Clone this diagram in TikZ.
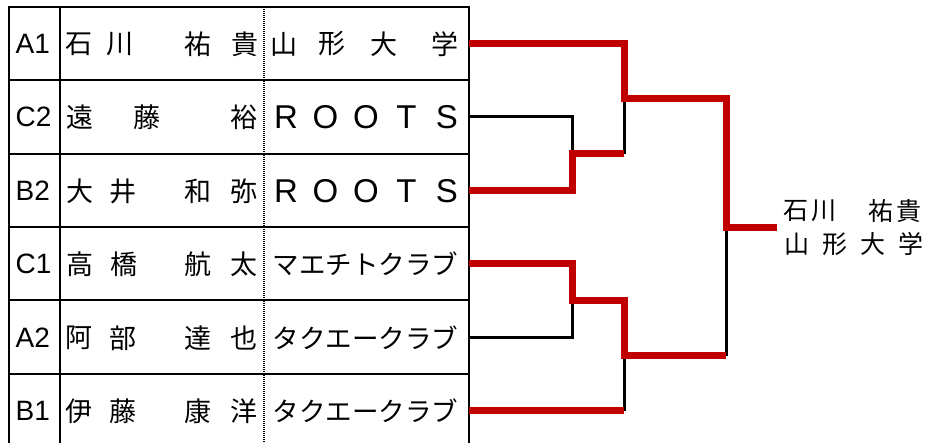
\documentclass[tikz,border=0pt]{standalone}
\usepackage{fontspec}
\setmainfont{Noto Sans CJK JP}
\newfontfamily\latinfont{Liberation Sans}
\definecolor{winred}{HTML}{C00000}
\begin{document}
\begin{tikzpicture}[x=1pt,y=-1pt,
  grid/.style={line width=2.8pt,black},
  sepdots/.style={line width=1.5pt,black,dash pattern=on 1pt off 1pt},
  lose/.style={line width=3pt,black},
  win/.style={line width=7pt,winred,miter limit=10},
  cell/.style={inner sep=0pt,font=\fontsize{27}{27}\selectfont},
  latin/.style={inner sep=0pt,font=\latinfont\fontsize{33}{33}\selectfont},
  kata/.style={inner sep=0pt,font=\fontsize{26.5}{27}\selectfont},
  lab/.style={inner sep=0pt,anchor=west,font=\latinfont\fontsize{28}{28}\selectfont},
  champ/.style={inner sep=0pt,font=\fontsize{25}{25}\selectfont}]
\useasboundingbox (0,0) rectangle (927,443);
\fill[white] (0,0) rectangle (927,443);
% table
\draw[grid] (9,7) -- (469,7);
\foreach \y in {80,154,227,300,374} \draw[grid] (9,\y) -- (469,\y);
\foreach \x in {9,60,469} \draw[grid] (\x,5.6) -- (\x,443);
\draw[sepdots] (264,7) -- (264,443);
% labels
\node[lab] (l1) at (15.5,44) {A1};
\node[lab] (l2) at (15.5,117) {C2};
\node[lab] (l3) at (15.5,191) {B2};
\node[lab] (l4) at (15.5,264) {C1};
\node[lab] (l5) at (15.5,338) {A2};
\node[lab] (l6) at (15.5,411) {B1};
% names
\foreach \c/\x [count=\i] in {石/79,川/120,祐/198,貴/245} \node[cell] (na\i) at (\x,44) {\c};
\foreach \c/\x [count=\i] in {遠/80,藤/147,裕/244} \node[cell] (nb\i) at (\x,117) {\c};
\foreach \c/\x [count=\i] in {大/80,井/123,和/198,弥/244} \node[cell] (nc\i) at (\x,191) {\c};
\foreach \c/\x [count=\i] in {高/80,橋/124,航/198,太/244} \node[cell] (nd\i) at (\x,264) {\c};
\foreach \c/\x [count=\i] in {阿/79,部/123,達/198,也/244} \node[cell] (ne\i) at (\x,338) {\c};
\foreach \c/\x [count=\i] in {伊/79,藤/123,康/198,洋/244} \node[cell] (nf\i) at (\x,411) {\c};
% clubs
\foreach \c/\x [count=\i] in {山/284,形/332,大/384,学/445} \node[cell] (ca\i) at (\x,44) {\c};
\foreach \c/\x [count=\i] in {R/286,O/325.5,O/366,T/406.5,S/447} \node[latin] (cb\i) at (\x,117) {\c};
\foreach \c/\x [count=\i] in {R/286,O/325.5,O/366,T/406.5,S/447} \node[latin] (cc\i) at (\x,191) {\c};
\node[kata] (cd) at (365.5,264) {マエチトクラブ};
\node[kata] (ce) at (365.5,338) {タクエークラブ};
\node[kata] (cf) at (365.5,411) {タクエークラブ};
% bracket coordinates
\coordinate (r1) at (469,44);
\coordinate (r2) at (469,117);
\coordinate (r3) at (469,191);
\coordinate (r4) at (469,264);
\coordinate (r5) at (469,338);
\coordinate (r6) at (469,411);
\coordinate (m1) at (572,154);
\coordinate (m2) at (572,301);
\coordinate (s1) at (624,99);
\coordinate (s2) at (624,356);
\coordinate (f) at (726,228);
\coordinate (w) at (777,228);
% losing lines
\draw[lose] (r2) -| (m1);
\draw[lose] (m1 -| s1) -- (s1);
\draw[lose] (r5) -| (m2);
\draw[lose] (r6 -| s2) -- (s2);
\draw[lose] (s2 -| f) -- (f);
% winning lines
\draw[win] (r3) -| (m1) -- (m1 -| s1);
\draw[win] (r1) -| (s1) -| (f) -- (w);
\draw[win] (r4) -| (m2) -| (s2) -- (s2 -| f);
\draw[win] (r6) -- (r6 -| s2);
% champion
\foreach \c/\x [count=\i] in {石/796,川/824,祐/881,貴/909} \node[champ] (wa\i) at (\x,211) {\c};
\foreach \c/\x [count=\i] in {山/797,形/835,大/873,学/911} \node[champ] (wb\i) at (\x,244) {\c};
\end{tikzpicture}
\end{document}
